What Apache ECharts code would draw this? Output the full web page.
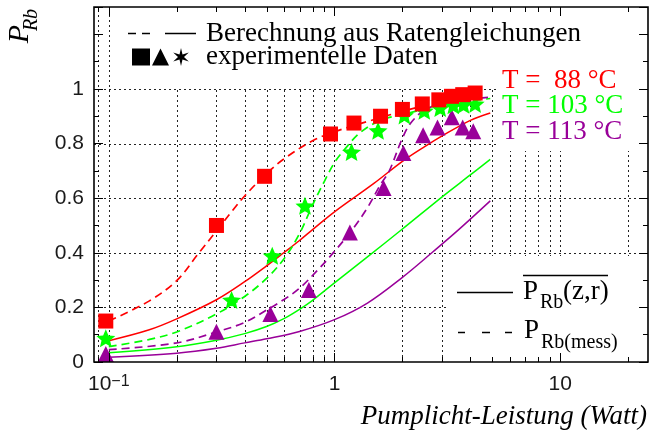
<!DOCTYPE html>
<html>
<head>
<meta charset="utf-8">
<script src="https://cdn.jsdelivr.net/npm/echarts@6/dist/echarts.min.js"></script>
<style>
  html, body { margin: 0; padding: 0; background: #fff; }
  #chart { width: 651px; height: 434px; }
</style>
</head>
<body>
<div id="chart"></div>
<script>
// Axis ranges and grid positions (pump power in W, polarisation P_Rb)
const xMin = 0.086, xMax = 24.5;
const yMin = 0, yMax = 1.3;
const xGridValues = [0.09, 0.1, 0.2, 0.3, 0.4, 0.5, 0.6, 0.7, 0.8, 0.9, 1, 2, 3, 4, 5, 6, 7, 8, 9, 10, 20];
const xMajorValues = [0.1, 1, 10];
const yGridValues = [0.2, 0.4, 0.6, 0.8, 1.0];

// Measured polarisation (symbols)
const meas88Power  = [0.097, 0.30, 0.49, 0.96, 1.22, 1.6, 2.0, 2.45, 2.9, 3.3, 3.7, 4.2];
const meas88Pol    = [0.15, 0.50, 0.68, 0.835, 0.875, 0.90, 0.925, 0.945, 0.96, 0.973, 0.979, 0.985];
const meas103Power = [0.097, 0.35, 0.53, 0.74, 1.19, 1.56, 2.04, 2.5, 2.94, 3.36, 3.73, 4.2];
const meas103Pol   = [0.087, 0.227, 0.389, 0.572, 0.769, 0.847, 0.903, 0.92, 0.93, 0.94, 0.942, 0.945];
const meas113Power = [0.097, 0.30, 0.52, 0.77, 1.17, 1.65, 2.02, 2.47, 2.86, 3.31, 3.7, 4.12];
const meas113Pol   = [0.029, 0.111, 0.176, 0.264, 0.474, 0.637, 0.765, 0.83, 0.859, 0.896, 0.859, 0.845];

// Rate-equation results, P_Rb(mess) (dashed)
const mess88Power  = [0.1, 0.15, 0.2, 0.25, 0.3, 0.35, 0.4, 0.5, 0.6, 0.8, 1.0, 1.5, 2.0, 3.0, 4.3];
const mess88Pol    = [0.15, 0.222, 0.298, 0.398, 0.48, 0.55, 0.608, 0.69, 0.745, 0.81, 0.843, 0.888, 0.918, 0.955, 0.983];
const mess103Power = [0.1, 0.15, 0.2, 0.3, 0.4, 0.5, 0.6, 0.7, 0.8, 0.9, 1.0, 1.1, 1.3, 1.6, 2.0, 3.0, 4.9];
const mess103Pol   = [0.056, 0.082, 0.11, 0.176, 0.24, 0.306, 0.38, 0.47, 0.575, 0.66, 0.73, 0.775, 0.84, 0.885, 0.906, 0.94, 0.965];
const mess113Power = [0.1, 0.2, 0.3, 0.4, 0.5, 0.6, 0.7, 0.85, 1.0, 1.2, 1.4, 1.6, 1.75, 2.0, 2.2, 2.6, 3.5, 4.9];
const mess113Pol   = [0.045, 0.07, 0.11, 0.145, 0.19, 0.23, 0.27, 0.34, 0.405, 0.485, 0.565, 0.65, 0.70, 0.82, 0.88, 0.93, 0.955, 0.97];

// Rate-equation results, averaged P_Rb(z,r) (solid)
const calc88Power  = [0.1, 0.15, 0.2, 0.3, 0.4, 0.5, 0.6, 0.7, 0.8, 1.0, 1.5, 2.0, 2.5, 3.0, 4.0, 4.9];
const calc88Pol    = [0.078, 0.117, 0.158, 0.228, 0.294, 0.352, 0.402, 0.445, 0.485, 0.55, 0.655, 0.735, 0.788, 0.828, 0.885, 0.912];
const calc103Power = [0.1, 0.2, 0.3, 0.4, 0.5, 0.6, 0.7, 0.8, 1.0, 1.4, 2.0, 3.0, 4.0, 4.9];
const calc103Pol   = [0.034, 0.056, 0.08, 0.104, 0.13, 0.16, 0.193, 0.226, 0.29, 0.385, 0.487, 0.605, 0.685, 0.742];
const calc113Power = [0.1, 0.2, 0.3, 0.4, 0.5, 0.7, 1.0, 1.4, 2.0, 2.7, 3.5, 4.9];
const calc113Pol   = [0.017, 0.032, 0.05, 0.07, 0.085, 0.112, 0.155, 0.216, 0.31, 0.40, 0.48, 0.59];

const tempLabels = ['T =  88 °C', 'T = 103 °C', 'T = 113 °C'];

const RED = '#ff0000', GREEN = '#00ff00', PURPLE = '#990099';
const SANS = '"Liberation Sans", Arial, sans-serif';
const SERIF = '"Liberation Serif", "Times New Roman", serif';
const LABEL_COLOR = '#1a1a1a';

const STAR5 = 'path://M10 0 L12.65 6.36 L19.51 6.91 L14.28 11.39 L15.88 18.09 L10 14.5 L4.12 18.09 L5.72 11.39 L0.49 6.91 L7.35 6.36 Z';

const pairs = (xs, ys) => xs.map((x, i) => [x, ys[i]]);
const isDecade = v => Math.abs(Math.log10(v) - Math.round(Math.log10(v))) < 1e-6;

const chart = echarts.init(document.getElementById('chart'), null, { renderer: 'canvas' });

function curve(xs, ys, color, dashed) {
  return {
    type: 'line', data: pairs(xs, ys), showSymbol: false, symbol: 'none',
    smooth: 0.35, z: 3, silent: true,
    lineStyle: { color: color, width: dashed ? 1.7 : 1.5, type: dashed ? [8, 5] : 'solid' }
  };
}
function marks(xs, ys, color, symbol, size) {
  return {
    type: 'scatter', data: pairs(xs, ys), symbol: symbol, symbolSize: size,
    itemStyle: { color: color, opacity: 1 }, z: 4, silent: true
  };
}

const yAxisBase = {
  type: 'value', min: yMin, max: yMax, interval: 0.2, z: 6,
  axisLine: { show: false },
  axisTick: { show: true, inside: true, length: 9, lineStyle: { color: '#000', width: 1 } },
  minorTick: { show: true, splitNumber: 2, length: 5, lineStyle: { color: '#000', width: 1 } },
  splitLine: { show: false }
};

chart.setOption({
  animation: false,
  grid: { left: 94, right: 3, top: 7, bottom: 72 },
  xAxis: {
    type: 'log', logBase: 10, min: xMin, max: xMax,
    axisLine: { show: false }, axisTick: { show: false },
    splitLine: { show: false }, minorTick: { show: false },
    axisLabel: {
      margin: 12, color: LABEL_COLOR, fontFamily: SANS, fontSize: 21,
      hideOverlap: false,
      formatter: v => {
        if (!isDecade(v)) return '';
        const e = Math.round(Math.log10(v));
        if (e === 0) return '1';
        if (e === 1) return '10';
        if (e === -1) return '{b|10}{s|\u22121}';
        return '';
      },
      rich: {
        b: { fontSize: 21, fontFamily: SANS, color: LABEL_COLOR, verticalAlign: 'bottom' },
        s: { fontSize: 16, fontFamily: SANS, color: LABEL_COLOR, verticalAlign: 'top' }
      }
    }
  },
  yAxis: [
    Object.assign({}, yAxisBase, {
      position: 'left',
      axisLabel: {
        margin: 10, color: LABEL_COLOR, fontFamily: SANS, fontSize: 21,
        formatter: v => (v > 1.0001 ? '' : String(Math.round(v * 10) / 10))
      }
    }),
    Object.assign({}, yAxisBase, { position: 'right', axisLabel: { show: false } })
  ],
  series: [
    curve(calc88Power, calc88Pol, RED, false),
    curve(calc103Power, calc103Pol, GREEN, false),
    curve(calc113Power, calc113Pol, PURPLE, false),
    curve(mess88Power, mess88Pol, RED, true),
    curve(mess103Power, mess103Pol, GREEN, true),
    curve(mess113Power, mess113Pol, PURPLE, true),
    marks(meas113Power, meas113Pol, PURPLE, 'triangle', [16, 16]),
    marks(meas103Power, meas103Pol, GREEN, STAR5, [19, 18]),
    marks(meas88Power, meas88Pol, RED, 'rect', [15, 15])
  ]
});

// Grid lines, ticks, frame and annotations placed through the axis scales
const px = v => chart.convertToPixel({ xAxisIndex: 0 }, v);
const py = v => chart.convertToPixel({ yAxisIndex: 0 }, v);
const L = px(xMin), R = px(xMax), B = py(yMin), T = py(yMax);
const crisp = v => Math.round(v) + 0.5;

const els = [];
const line = (x1, y1, x2, y2, style, z) => els.push({
  type: 'line', silent: true, z: z,
  shape: { x1: x1, y1: y1, x2: x2, y2: y2 },
  style: Object.assign({ stroke: '#000', lineWidth: 1 }, style)
});
const textEl = (x, y, str, font, fill, align) => ({
  type: 'text', silent: true, z: 8, x: x, y: y,
  style: { text: str, font: font, fill: fill, align: align || 'left', verticalAlign: 'middle' }
});
const text = (x, y, str, font, fill, align) => els.push(textEl(x, y, str, font, fill, align));

const dotted = { stroke: '#222', lineWidth: 1, lineDash: [2, 3] };
xGridValues.forEach(v => line(crisp(px(v)), B, crisp(px(v)), T, dotted, 1));
yGridValues.forEach(v => line(L, crisp(py(v)), R, crisp(py(v)), dotted, 1));

// white panels behind the key and the temperature labels
const panel = (x, y, w, h) => els.push({
  type: 'rect', silent: true, z: 2,
  shape: { x: x, y: y, width: w, height: h }, style: { fill: '#fff', stroke: null }
});
panel(111, T + 1, R - 112, 87 - T);
panel(496, T + 1, R - 497, 150 - T);
panel(446, 256, R - 447, B - 257);

// ticks on the bottom and top edges
xGridValues.forEach(v => {
  const len = xMajorValues.indexOf(v) >= 0 ? 9 : 5;
  const x = crisp(px(v));
  line(x, B, x, B - len, {}, 6);
  line(x, T, x, T + len, {}, 6);
});

// frame
els.push({
  type: 'rect', silent: true, z: 7,
  shape: { x: L, y: T, width: R - L, height: B - T },
  style: { fill: null, stroke: '#000', lineWidth: 1.6 }
});

// vertical axis title, read bottom to top
els.push({
  type: 'group', x: 26, y: 27, rotation: Math.PI / 2, silent: true,
  children: [
    textEl(-7, -6, 'P', 'italic 30px ' + SERIF, '#000', 'center'),
    textEl(7, 6, 'Rb', 'italic 20px ' + SERIF, '#000', 'center')
  ]
});
text(647, 417, 'Pumplicht-Leistung (Watt)', 'italic 27px ' + SERIF, '#000', 'right');

// key, top left
line(128, 33.5, 136, 33.5, { lineWidth: 1.5 }, 8);
line(142, 33.5, 150, 33.5, { lineWidth: 1.5 }, 8);
line(165, 33.5, 196, 33.5, { lineWidth: 1.5 }, 8);
text(206, 34, 'Berechnung aus Ratengleichungen', '27px ' + SERIF, '#000');
els.push({ type: 'rect', silent: true, z: 8, shape: { x: 132, y: 48.5, width: 18, height: 17 }, style: { fill: '#000' } });
els.push({ type: 'polygon', silent: true, z: 8, shape: { points: [[152, 65.5], [160.5, 48.5], [169, 65.5]] }, style: { fill: '#000' } });
const starPts = [];
for (let k = 0; k < 12; k++) {
  const a = -Math.PI / 2 + k * Math.PI / 6;
  const r = k % 2 === 0 ? 9 : 3;
  starPts.push([181 + r * Math.cos(a), 57 + r * Math.sin(a)]);
}
els.push({ type: 'polygon', silent: true, z: 8, shape: { points: starPts }, style: { fill: '#000' } });
text(206, 57, 'experimentelle Daten', '27px ' + SERIF, '#000');

// temperature labels
const tempColors = [RED, GREEN, PURPLE];
const tempY = [80.5, 106, 132];
tempLabels.forEach((s, i) => text(502, tempY[i], s, '27px ' + SERIF, tempColors[i]));

// key, bottom right
line(457, 292.5, 513, 292.5, { lineWidth: 1.5 }, 8);
text(523, 292, 'P', '27px ' + SERIF, '#000');
text(540, 303, 'Rb', '20px ' + SERIF, '#000');
text(563, 292, '(z,r)', '27px ' + SERIF, '#000');
line(523, 275.5, 608, 275.5, { lineWidth: 1.4 }, 8);
line(458, 332.5, 465, 332.5, { lineWidth: 1.5 }, 8);
line(482, 332.5, 490, 332.5, { lineWidth: 1.5 }, 8);
line(505, 332.5, 512, 332.5, { lineWidth: 1.5 }, 8);
text(524, 331, 'P', '27px ' + SERIF, '#000');
text(541, 343, 'Rb(mess)', '20px ' + SERIF, '#000');

chart.setOption({ graphic: { elements: els } });
</script>
</body>
</html>
